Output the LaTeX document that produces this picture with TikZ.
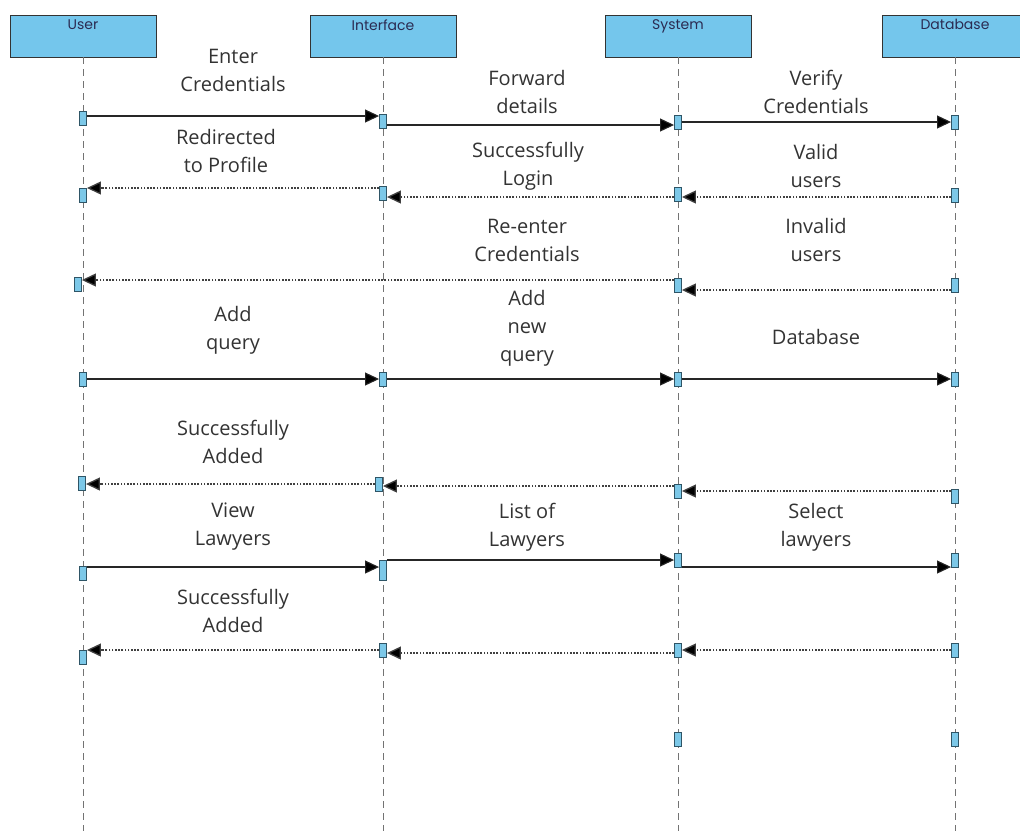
\documentclass[tikz,border=0pt]{standalone}
\usepackage{fontspec}
\usetikzlibrary{arrows.meta}
\newfontfamily\msgfont{Open Sans}
\newfontfamily\headfont{Poppins}
\definecolor{headblue}{HTML}{74C6EC}
\definecolor{actblue}{HTML}{7CC8E8}
\definecolor{actline}{HTML}{2F5566}
\definecolor{txtgray}{HTML}{333333}

\begin{document}
\begin{tikzpicture}[x=1pt, y=-1pt,
	head/.style = {draw=black!80, fill=headblue, minimum width=146pt, minimum height=42pt, inner sep=0pt, anchor=north,
		label={[font=\headfont\fontsize{14}{16}\selectfont, text=txtgray!85!blue, anchor=north, yshift=-1pt]north:#1}},
	act/.style = {draw=actline, fill=actblue, minimum width=7pt, minimum height=14pt, inner sep=0pt, line width=0.9pt},
	life/.style = {dash pattern=on 7pt off 5pt, draw=black!55, line width=0.8pt},
	call/.style = {-{Triangle[length=14pt,width=13pt,fill=black]}, draw=black!85, line width=1.1pt},
	reply/.style = {-{Triangle[length=14pt,width=13pt,fill=black]}, dash pattern=on 1.6pt off 1.6pt, draw=black!75, line width=1.3pt},
	msg/.style = {align=center, text=txtgray, font=\msgfont\fontsize{20}{28}\selectfont}]
	\useasboundingbox (0,0) rectangle (1020,831);
	\coordinate (bottom) at (0,831);
	% lifelines
	\node[head={User}] (user) at (83,15) {};
	\node[head={Interface}] (iface) at (383,15) {};
	\node[head={System}] (sys) at (678,15) {};
	\node[head={Database}] (db) at (955,15) {};
	\foreach \l in {user, iface, sys, db}
		\draw[life] (\l.south) -- (\l.south |- bottom);
	% activations
	\node[act] (u1) at (83,118) {};
	\node[act] (u2) at (83,195) {};
	\node[act] (u3) at (78,284) {};
	\node[act] (u4) at (83,379) {};
	\node[act] (u5) at (82,483) {};
	\node[act] (u6) at (83,573) {};
	\node[act] (u7) at (83,657) {};
	\node[act] (i1) at (383,121) {};
	\node[act] (i2) at (383,193) {};
	\node[act] (i3) at (383,379) {};
	\node[act] (i4) at (379,484) {};
	\node[act, minimum height=20pt] (i5) at (383,570) {};
	\node[act] (i6) at (383,650) {};
	\node[act] (s1) at (678,122) {};
	\node[act] (s2) at (678,194) {};
	\node[act] (s3) at (678,285) {};
	\node[act] (s4) at (678,379) {};
	\node[act] (s5) at (678,491) {};
	\node[act] (s6) at (678,560) {};
	\node[act] (s7) at (678,650) {};
	\node[act] (s8) at (678,739) {};
	\node[act] (d1) at (955,122) {};
	\node[act] (d2) at (955,195) {};
	\node[act] (d3) at (955,285) {};
	\node[act] (d4) at (955,379) {};
	\node[act] (d5) at (955,496) {};
	\node[act] (d6) at (955,560) {};
	\node[act] (d7) at (955,650) {};
	\node[act] (d8) at (955,739) {};
	% messages
	\draw[call] ([yshift=2pt]u1.east) -- ([yshift=2pt]u1.east -| i1.west);
	\draw[call] ([yshift=-4pt]i1.east) -- ([yshift=-4pt]i1.east -| s1.west);
	\draw[call] (s1.east) -- (s1.east -| d1.west);
	\draw[reply] ([yshift=-2pt]d2.west) -- ([yshift=-2pt]d2.west -| s2.east);
	\draw[reply] ([yshift=-3pt]s2.west) -- ([yshift=-3pt]s2.west -| i2.east);
	\draw[reply] ([yshift=5pt]i2.west) -- ([yshift=5pt]i2.west -| u2.east);
	\draw[reply] ([yshift=-5pt]d3.west) -- ([yshift=-5pt]d3.west -| s3.east);
	\draw[reply] ([yshift=5pt]s3.west) -- ([yshift=5pt]s3.west -| u3.east);
	\draw[call] (u4.east) -- (u4.east -| i3.west);
	\draw[call] (i3.east) -- (i3.east -| s4.west);
	\draw[call] (s4.east) -- (s4.east -| d4.west);
	\draw[reply] ([yshift=5pt]d5.west) -- ([yshift=5pt]d5.west -| s5.east);
	\draw[reply] ([yshift=5pt]s5.west) -- ([yshift=5pt]s5.west -| i4.east);
	\draw[reply] (i4.west) -- (i4.west -| u5.east);
	\draw[call] ([yshift=6pt]u6.east) -- ([yshift=6pt]u6.east -| i5.west);
	\draw[call] ([yshift=10pt]i5.east) -- ([yshift=10pt]i5.east -| s6.west);
	\draw[call] ([yshift=-7pt]s6.east) -- ([yshift=-7pt]s6.east -| d6.west);
	\draw[reply] (d7.west) -- (d7.west -| s7.east);
	\draw[reply] ([yshift=-3pt]s7.west) -- ([yshift=-3pt]s7.west -| i6.east);
	\draw[reply] (i6.west) -- (i6.west -| u7.east);
	% labels
	\node[msg] (t1) at (233,70) {Enter\\Credentials};
	\node[msg] (t2) at (527,92) {Forward\\details};
	\node[msg] (t3) at (816,92) {Verify\\Credentials};
	\node[msg] (t4) at (226,151) {Redirected\\to Profile};
	\node[msg] (t5) at (528,166) {Successfully\\Login};
	\node[msg] (t6) at (816,166) {Valid\\users};
	\node[msg] (t7) at (527,240) {Re-enter\\Credentials};
	\node[msg] (t8) at (816,240) {Invalid\\users};
	\node[msg] (t9) at (233,330) {Add\\query};
	\node[msg] (t10) at (527,328) {Add\\new\\query};
	\node[msg] (t11) at (816,337) {Database};
	\node[msg] (t12) at (233,442) {Successfully\\Added};
	\node[msg] (t13) at (233,527) {View\\Lawyers};
	\node[msg] (t14) at (527,527) {List of\\Lawyers};
	\node[msg] (t15) at (816,527) {Select\\lawyers};
	\node[msg] (t16) at (233,611) {Successfully\\Added};
\end{tikzpicture}
\end{document}
